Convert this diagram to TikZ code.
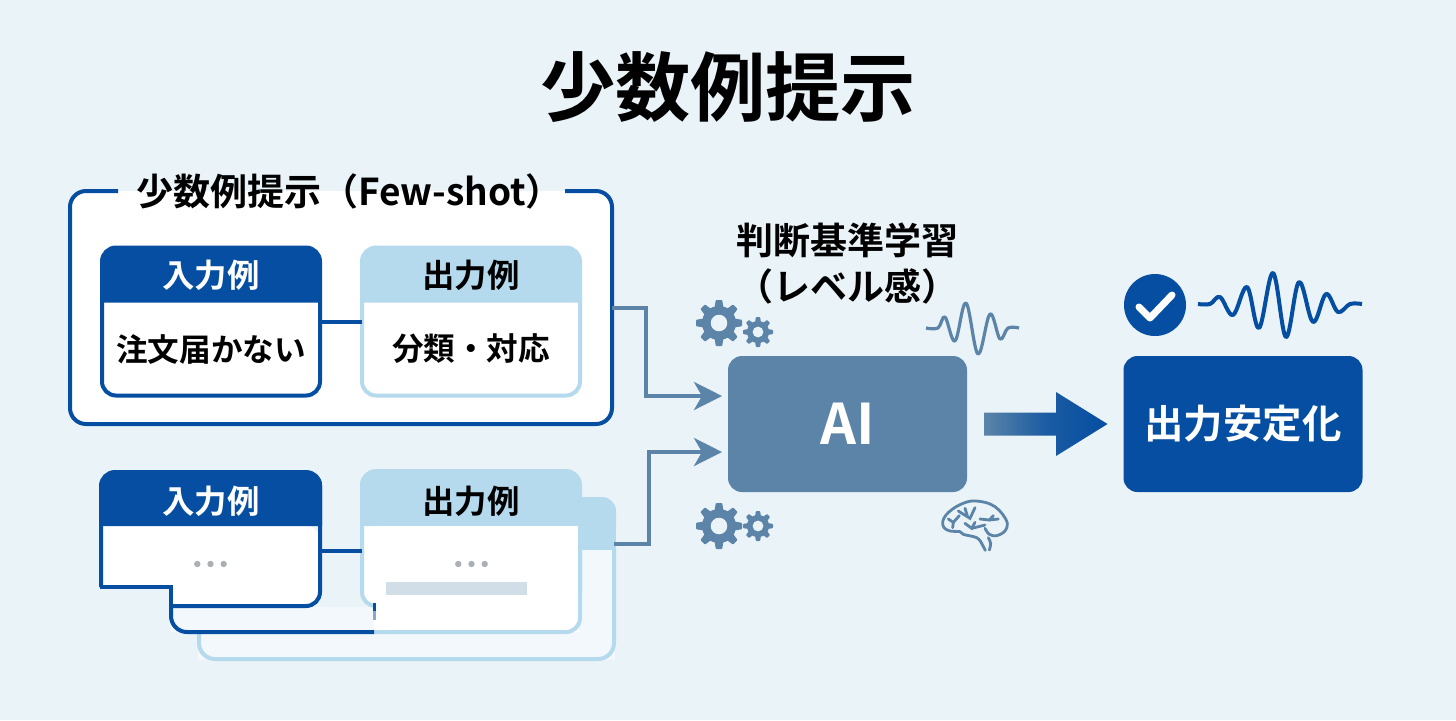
\documentclass[tikz,border=0pt]{standalone}
\usepackage{fontspec}
\setmainfont{Noto Sans CJK JP}[BoldFont={Noto Sans CJK JP Bold}]
\usetikzlibrary{positioning}
\usetikzlibrary{arrows.meta}
\usetikzlibrary{calc}
\definecolor{pagebg}{HTML}{EAF3F7}
\definecolor{deepblue}{HTML}{054EA1}
\definecolor{paleblue}{HTML}{B5DAEE}
\definecolor{aiblue}{HTML}{5B84A8}
\definecolor{fadefill}{HTML}{F2F8FB}
\definecolor{barfill}{HTML}{D2DEE7}
\definecolor{dotgrey}{HTML}{ABB0B5}
\tikzset{
    txt/.style={font=\bfseries, inner sep=0pt, text=black},
    cardfont/.style={font=\fontsize{16.2}{16.2}\selectfont\bfseries},
    bodyfont/.style={font=\fontsize{15.8}{15.8}\selectfont\bfseries},
    incard/.style={draw=deepblue, fill=white, line width=2pt, rounded corners=7pt,
        minimum width=109pt, minimum height=74pt, inner sep=0pt, outer sep=0pt},
    outcard/.style={incard, draw=paleblue},
    link/.style={draw=deepblue, line width=2pt},
    feed/.style={draw=aiblue, line width=2pt, -{Stealth[length=14pt,width=14pt,inset=4pt]}},
    solid box/.style={rounded corners=7pt, minimum width=119.5pt, minimum height=68pt,
        inner sep=0pt, outer sep=0pt, text=white, font=\bfseries},
    dot/.style={circle, fill=dotgrey, minimum size=3.2pt, inner sep=0pt},
    gearicon/.pic={
        \fill[aiblue] (0,0) circle (.74);
        \foreach \a in {0,45,...,315} {
            \fill[aiblue, rotate=\a, rounded corners=.4pt] (-.2,.62) -- (-.14,1) -- (.14,1) -- (.2,.62) -- cycle;
        }
        \fill[pagebg] (0,0) circle (.36);
    }
}
\begin{document}
\begin{tikzpicture}[x=.5pt, y=-.5pt]
        \fill[pagebg] (0,0) rectangle (1456,720);
        \node[txt, font=\fontsize{37.6}{37.6}\selectfont\bfseries] (title) at (728,87) {少数例提示};

        % upper group
        \node[fill=white, inner sep=0pt, outer sep=0pt, minimum width=271pt, minimum height=116.5pt,
            rounded corners=8pt] (frame) at (341,307.5) {};
        \draw[deepblue, line width=2pt, rounded corners=8pt]
            (118,191) -- (frame.north west) -- (frame.south west) -- (frame.south east)
            -- (frame.north east) -- (565,191);
        \node[txt, font=\fontsize{18.5}{18.5}\selectfont\bfseries] (frametitle) at (349.5,191) {少数例提示（Few-shot）};

        \node[incard] (input) at (211,321.5) {};
        \fill[deepblue, rounded corners=7pt] ([yshift=-27.5pt]input.north west) -- (input.north west)
            -- (input.north east) -- ([yshift=-27.5pt]input.north east);
        \node[txt, text=white, cardfont] (inputhead) at (211,275) {入力例};
        \node[txt, bodyfont] (inputtext) at (211,349) {注文届かない};

        \node[outcard] (output) at (471,321.5) {};
        \fill[paleblue, rounded corners=7pt] ([yshift=-27.5pt]output.north west) -- (output.north west)
            -- (output.north east) -- ([yshift=-27.5pt]output.north east);
        \node[txt, cardfont] (outputhead) at (471,275) {出力例};
        \node[txt, bodyfont] (outputtext) at (471,349) {分類・対応};
        \draw[link] (input) -- (output);

        % lower stack, back sheet
        \fill[fadefill] (170,607) rectangle (374,632);
        \fill[fadefill] (198,630) -- (198,660) -- (615,660) -- (615,548) -- (580,548) -- (580,630) -- cycle;
        \fill[paleblue, rounded corners=7pt] (570,497) -- (616,497) -- (616,525);
        \fill[paleblue] (570,497) rectangle (600,550);
        \fill[paleblue] (570,512) rectangle (616,550);
        \draw[paleblue, line width=2pt, rounded corners=8pt] (199,632) -- (199,659) -- (614,659) -- (614,548);

        % lower stack, output side
        \node[outcard, minimum height=67.5pt] (outputlow) at (471,538.5) {};
        \fill[paleblue, rounded corners=7pt] ([yshift=-27.5pt]outputlow.north west) -- (outputlow.north west)
            -- (outputlow.north east) -- ([yshift=-27.5pt]outputlow.north east);
        \fill[white] (374,526) rectangle (579,632);
        \draw[paleblue, line width=2pt, rounded corners=7pt] (374,632) -- (580,632) -- (580,524);
        \node[txt, cardfont] (outputlowhead) at (471,501) {出力例};
        \node[fill=barfill, minimum width=70.5pt, minimum height=6.5pt, inner sep=0pt] (bar) at (456.5,588) {};
        \node[dot] (odot2) at (471.5,564) {};
        \node[dot, left=3pt of odot2] (odot1) {};
        \node[dot, right=3pt of odot2] (odot3) {};
        \draw[deepblue, line width=1.5pt] (374,603) -- (374,611);
        \draw[aiblue!70, line width=1.5pt] (374,611) -- (374,620);

        % lower stack, input side
        \draw[deepblue, line width=2pt, rounded corners=8pt] (171,600) -- (171,632) -- (374,632);
        \fill[white] (103,526) rectangle (171,586);
        \fill[white, rounded corners=7pt] (171,526) -- (320,526) -- (320,606) -- (171,606);
        \draw[deepblue, line width=2pt, rounded corners=7pt]
            (171,606) -- (320,606) -- (320,472) -- (101,472) -- (101,587);
        \draw[deepblue, line width=2pt] (100,587) -- (171,587) -- (171,610);
        \node[inner sep=0pt, minimum width=111pt, minimum height=68.5pt] (inputlow) at (211,538.5) {};
        \fill[deepblue, rounded corners=7pt] (100,526) -- (100,471) -- (322,471) -- (322,526);
        \node[txt, text=white, cardfont] (inputlowhead) at (211,501) {入力例};
        \node[dot] (idot2) at (210.5,564) {};
        \node[dot, left=3pt of idot2] (idot1) {};
        \node[dot, right=3pt of idot2] (idot3) {};
        \draw[link] ([yshift=-6.25pt]inputlow.east) -- ([yshift=-6.25pt]outputlow.west);

        % AI block
        \node[solid box, fill=aiblue, font=\fontsize{28}{28}\selectfont\bfseries] (ai) at (847.5,424) {AI};
        \node[txt, align=center, font=\fontsize{18.5}{23}\selectfont\bfseries] (criteria) at (847,264) {判断基準学習\\（レベル感）};
        \coordinate (aiup) at (722,396);
        \coordinate (ailow) at (722,452);
        \draw[feed] (frame.east) -- ++(17pt,0) |- (aiup);
        \draw[feed] (614,544) -- ++(17.5pt,0) |- (ailow);

        \pic[scale=23] (gearA) at (719,323) {gearicon};
        \pic[scale=15] (gearB) at (758,332) {gearicon};
        \pic[scale=23] (gearC) at (719,526) {gearicon};
        \pic[scale=15] (gearD) at (758,526) {gearicon};

        \draw[aiblue, line width=1.6pt, line join=round] plot[smooth, tension=.6] coordinates
            {(926,328) (938,328) (945,317) (955,341) (966,303) (978,354) (990,314) (1000,339) (1008,328) (1019,328)};

        \begin{scope}[shift={(930,495)}, scale=.3333, aiblue, line width=1.4pt, line cap=round]
            \draw plot[smooth, tension=.6] coordinates {(155,145) (140,128) (100,118) (90,110) (60,108) (42,98) (38,80) (48,60) (68,42) (92,28) (125,18) (165,22) (195,35) (218,58) (232,85) (225,108) (200,122) (178,118) (165,100)};
            \draw (155,145) -- (166,166);
            \draw plot[smooth, tension=.6] coordinates {(178,165) (182,145) (175,128)};
            \draw (55,72) -- (70,82) -- (88,62);
            \draw (70,82) -- (68,98);
            \draw (85,48) -- (120,70) -- (135,38);
            \draw (105,40) -- (112,62);
            \draw (150,72) -- (178,75) -- (190,62);
            \draw (178,75) -- (205,72);
            \draw (105,85) -- (125,100) -- (135,82);
            \draw (125,100) -- (165,90);
        \end{scope}

        % result
        \node[solid box, fill=deepblue, font=\fontsize{19.7}{19.7}\selectfont\bfseries] (result) at (1243,424) {出力安定化};
        \node[circle, fill=deepblue, minimum size=31pt, inner sep=0pt] (check) at (1155,305) {};
        \draw[white, line width=3.5pt, line cap=round, line join=round] (1139,307) -- (1150,318) -- (1172,295);
        \draw[deepblue, line width=2pt, line join=round] plot[smooth, tension=.6] coordinates
            {(1198,304) (1210,304) (1220,297) (1233,315) (1247,287) (1259,328) (1273,273) (1286,337) (1299,282) (1313,322) (1326,294) (1338,312) (1350,304) (1362,304)};
        \shade[left color=aiblue, right color=deepblue, middle color=deepblue!75!aiblue]
            ([xshift=8.5pt,yshift=5.75pt]ai.east) -- ++(36pt,0) -- ++(0,10.25pt)
            -- ([xshift=-8pt]result.west) -- ([xshift=44.5pt,yshift=-16pt]ai.east)
            -- ++(0,10.25pt) -- ([xshift=8.5pt,yshift=-5.75pt]ai.east) -- cycle;
    \end{tikzpicture}
\end{document}
